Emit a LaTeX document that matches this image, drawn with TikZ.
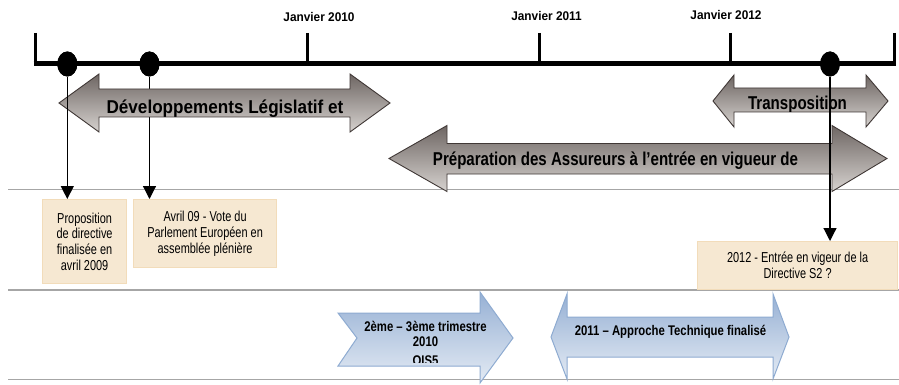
\documentclass[tikz,border=0pt]{standalone}
\usepackage{fontspec}
\setmainfont{Liberation Sans}
\newfontfamily\fA{Liberation Sans}[FakeStretch=0.81]
\newfontfamily\fB{Liberation Sans}[FakeStretch=0.92]
\newfontfamily\fC{Liberation Sans}[FakeStretch=0.94]
\newfontfamily\fD{Liberation Sans}[FakeStretch=0.76]
\usetikzlibrary{arrows.meta,shapes.geometric}
\definecolor{sepgray}{RGB}{166,166,166}
\definecolor{boxfill}{RGB}{246,232,210}
\definecolor{boxline}{RGB}{242,220,186}
\definecolor{gtop}{RGB}{110,102,99}
\definecolor{gbot}{RGB}{214,210,207}
\definecolor{gline}{RGB}{64,56,54}
\definecolor{btop}{RGB}{150,176,212}
\definecolor{bbot}{RGB}{228,235,244}
\definecolor{bline}{RGB}{142,171,209}
\tikzset{
  sepline/.style={draw=sepgray, line width=1.5pt},
  axisline/.style={line width=5pt},
  tickline/.style={line width=3pt},
  dotnode/.style={ellipse, fill=black, minimum width=20pt, minimum height=25pt, inner sep=0pt},
  conn/.style={-{Triangle[length=13pt,width=13pt]}, line width=1.2pt},
  evbox/.style={draw=boxline, fill=boxfill, line width=1.2pt, align=center, anchor=north west, inner sep=0pt, font=\fD\fontsize{14.4}{15.7}\selectfont},
  garrow/.style={draw=gline, line width=0.9pt, top color=gtop, bottom color=gbot},
  barrow/.style={draw=bline, line width=1pt, top color=btop, bottom color=bbot},
  datelbl/.style={anchor=base, inner sep=0pt, font=\fC\bfseries\fontsize{12.6}{14}\selectfont},
  gtext/.style={anchor=base, inner sep=0pt, font=\fA\bfseries\fontsize{18.6}{20}\selectfont},
  btext/.style={anchor=base, inner sep=0pt, align=center, font=\fA\bfseries\fontsize{14}{14.5}\selectfont},
}
\begin{document}
\begin{tikzpicture}[x=1pt,y=-1pt]
\useasboundingbox[fill=white] (0,0) rectangle (899,385);

% separators
\draw[sepline] (8,189.5) -- (899,189.5);
\draw[sepline] (8,290) -- (899,290);
\draw[sepline] (8,379.5) -- (899,379.5);

% date labels
\node[datelbl] (l10) at (319,21.7) {Janvier 2010};
\node[datelbl] (l11) at (546.5,20.7) {Janvier 2011};
\node[datelbl] (l12) at (726,19.3) {Janvier 2012};

% event boxes
\node[evbox, minimum width=84pt, minimum height=84pt] (b1) at (42,199) {Proposition\\de directive\\finalisée en\\avril 2009};
\node[evbox, minimum width=143pt, minimum height=68pt] (b2) at (133,199) {Avril 09 - Vote du\\Parlement Européen en\\assemblée plénière};
\node[evbox, minimum width=200pt, minimum height=48pt] (b3) at (697,241) {2012 - Entrée en vigeur de la\\Directive S2 ?};

% dots
\node[dotnode] (d1) at (67.3,64) {};
\node[dotnode] (d2) at (149.5,64) {};
\node[dotnode] (d3) at (830,64) {};

% connector behind first arrow
\draw[conn] (d2.south) -- (d2.south |- b2.north);

% grey arrow 1
\draw[garrow] (59,103) -- (99,74) -- (99,89) -- (350,89) -- (350,74) -- (390,103)
  -- (350,132) -- (350,117) -- (99,117) -- (99,132) -- cycle;
\begin{scope}
  \clip (59,89.5) rectangle (390,116.5);
  \node[gtext, font=\fB\bfseries\fontsize{18.6}{20}\selectfont] (t1) at (225,113.3) {Développements Législatif et};
\end{scope}
\draw[conn] (d1.south) -- (d1.south |- b1.north);

% grey arrow 2 (Transposition)
\draw[garrow] (713,101) -- (734,75) -- (734,88) -- (866,88) -- (866,75) -- (888,101)
  -- (866,127) -- (866,112) -- (734,112) -- (734,127) -- cycle;
\begin{scope}
  \clip (713,88.5) rectangle (888,111.5);
  \node[gtext] (t2) at (797.5,110) {Transposition};
\end{scope}

% grey arrow 3 (Préparation)
\draw[garrow] (389,158.5) -- (447,125.5) -- (447,143.5) -- (832,143.5) -- (832,125.5) -- (887,158.5)
  -- (832,191.5) -- (832,174) -- (447,174) -- (447,191.5) -- cycle;
\begin{scope}
  \clip (389,144) rectangle (887,173.5);
  \node[gtext] (t3) at (615.5,165) {Préparation des Assureurs à l’entrée en vigueur de};
\end{scope}
\draw[conn] (d3.south) -- (d3.south |- b3.north);

% blue arrow A
\draw[barrow] (338,313) -- (480,313) -- (480,292) -- (513,338) -- (480,383) -- (480,366)
  -- (338,366) -- (357,338) -- cycle;
\begin{scope}
  \clip (338,313.5) rectangle (513,362.3);
  \node[btext] (t4) at (425.5,365) {2ème – 3ème trimestre\\2010\\[4.5pt]QIS5};
\end{scope}

% blue arrow B
\draw[barrow] (551,337) -- (567,294) -- (567,317) -- (773,317) -- (773,294) -- (789,337)
  -- (773,379) -- (773,357) -- (567,357) -- (567,379) -- cycle;
\node[btext] (t5) at (670.5,335) {2011 – Approche Technique finalisé};

% timeline axis
\draw[axisline] (33.5,64) -- (896,64);
\draw[tickline] (35,33) -- (35,66.5);
\draw[tickline] (307,33) -- (307,64);
\draw[tickline] (539,33) -- (539,64);
\draw[tickline] (730,33) -- (730,64);
\draw[tickline] (894.5,33) -- (894.5,66.5);

% dots on top
\fill (d1.center) ellipse (10 and 12.5);
\fill (d2.center) ellipse (10 and 12.5);
\fill (d3.center) ellipse (9.5 and 12.5);
\end{tikzpicture}
\end{document}
